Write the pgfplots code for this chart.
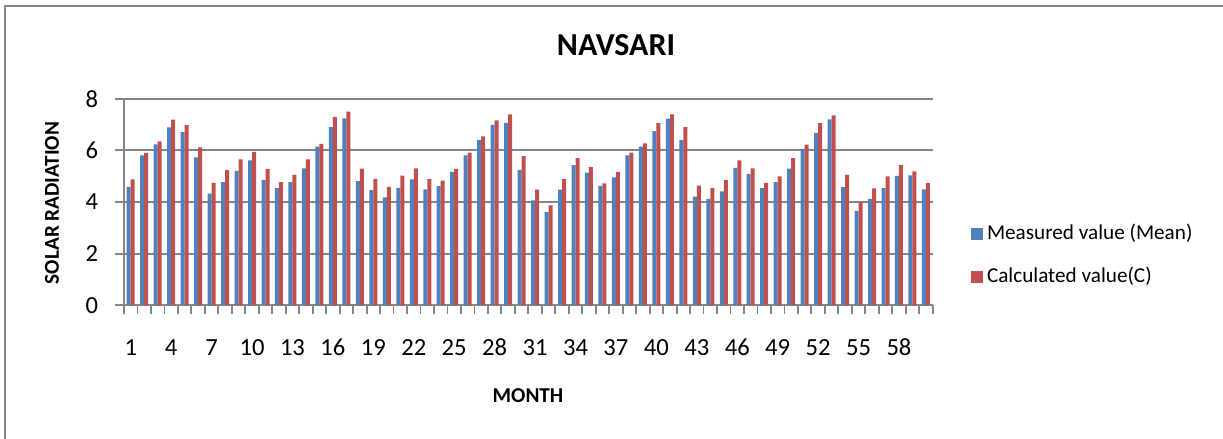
\documentclass[border=0pt]{standalone}
\usepackage{fontspec}
\setmainfont{Carlito}
\usepackage{pgfplots}
\usepackage{pgfplotstable}
\pgfplotsset{compat=1.18}

\definecolor{mblue}{RGB}{79,129,189}
\definecolor{cred}{RGB}{192,80,77}
\definecolor{gridgray}{RGB}{134,134,134}

\pgfplotsset{sqlegend/.style={legend image code/.code={\fill[##1] (0pt,-2.8pt) rectangle (5.6pt,2.8pt);}}}

% month, measured (mean), calculated (C)
\pgfplotstableread{
m  meas  calc
1  4.59  4.88
2  5.81  5.90
3  6.23  6.35
4  6.89  7.19
5  6.71  6.98
6  5.73  6.12
7  4.32  4.74
8  4.77  5.23
9  5.21  5.65
10 5.61  5.94
11 4.86  5.28
12 4.54  4.77
13 4.77  5.05
14 5.30  5.65
15 6.14  6.25
16 6.90  7.29
17 7.24  7.50
18 4.81  5.29
19 4.46  4.90
20 4.18  4.59
21 4.55  5.02
22 4.88  5.30
23 4.49  4.89
24 4.61  4.83
25 5.17  5.28
26 5.81  5.91
27 6.40  6.54
28 6.99  7.16
29 7.06  7.39
30 5.24  5.78
31 4.06  4.48
32 3.61  3.87
33 4.48  4.89
34 5.43  5.70
35 5.14  5.35
36 4.62  4.72
37 4.95  5.17
38 5.81  5.91
39 6.14  6.27
40 6.74  7.05
41 7.23  7.39
42 6.40  6.90
43 4.21  4.63
44 4.12  4.54
45 4.41  4.85
46 5.32  5.61
47 5.08  5.30
48 4.54  4.74
49 4.77  4.99
50 5.29  5.70
51 6.06  6.22
52 6.68  7.05
53 7.20  7.35
54 4.58  5.05
55 3.66  4.00
56 4.12  4.53
57 4.54  4.99
58 5.01  5.43
59 5.03  5.19
60 4.49  4.74
}\navsari

\begin{document}
\begin{tikzpicture}
\useasboundingbox (0,0) rectangle (611.5pt,219.5pt);
\fill[white] (0,0) rectangle (611.5pt,219.5pt);
% chart frame (only left and top edges show)
\draw[gridgray, line width=0.8pt] (2.5pt,0) -- (2.5pt,216.5pt) -- (611.5pt,216.5pt);

\begin{axis}[
    at={(62pt,66.85pt)}, anchor=south west,
    scale only axis,
    width=404.35pt, height=103.3pt,
    ybar=0pt, bar width=2pt,
    xmin=0.5, xmax=60.5,
    ymin=0, ymax=8,
    ytick={0,2,4,6,8},
    xtick={0.5,1.5,...,60.5},
    xticklabels={},
    extra x ticks={1,4,...,58},
    extra x tick style={major tick length=0pt, grid=none},
    axis lines*=left,
    axis line style={gridgray, line width=0.9pt},
    ymajorgrids,
    grid style={gridgray, line width=0.9pt},
    tick align=outside,
    major tick length=4.25pt,
    tick style={gridgray, line width=0.9pt},
    /pgf/number format/assume math mode=true,
    tick label style={font=\fontsize{12.3}{14}\selectfont, text=black},
    yticklabel style={anchor=east, inner sep=0pt, xshift=-8.5pt},
    xticklabel style={anchor=base, inner sep=0pt, yshift=-25.3pt},
    legend style={at={(1.0474,0.241)}, anchor=west, draw=none, fill=none,
        inner sep=0pt, row sep=11.5pt, font=\fontsize{10.6}{12}\selectfont,
        cells={anchor=west},
        nodes={text height=7.5pt, text depth=2.5pt, inner ysep=0pt, inner xsep=2.2pt}},
]
\addplot[fill=mblue, draw=none, sqlegend] table[x=m, y=meas] {\navsari};
\addplot[fill=cred, draw=none, sqlegend] table[x=m, y=calc] {\navsari};
\legend{Measured value (Mean), Calculated value(C)}
\end{axis}

\node[anchor=base, font=\bfseries\fontsize{16}{19}\selectfont] at (308pt,191.5pt) {NAVSARI};
\node[rotate=90, font=\bfseries\fontsize{10.6}{12}\selectfont] at (26pt,118pt) {SOLAR RADIATION};
\node[anchor=base, font=\bfseries\fontsize{10.6}{12}\selectfont] at (264pt,18pt) {MONTH};
\end{tikzpicture}
\end{document}
